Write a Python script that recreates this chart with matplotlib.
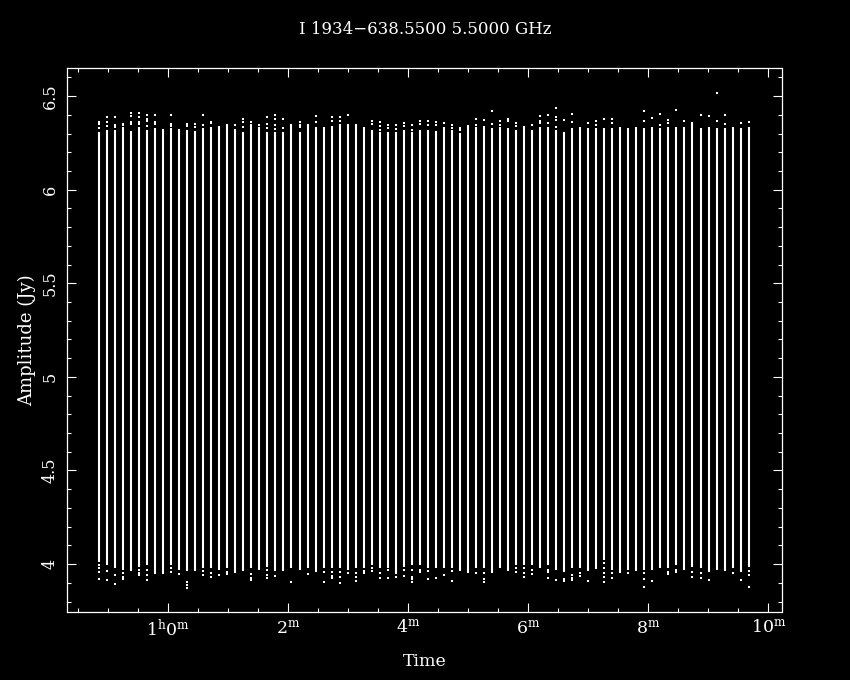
import numpy as np
import matplotlib
matplotlib.use('Agg')
import matplotlib.pyplot as plt
from matplotlib.ticker import FixedLocator, MultipleLocator

# integration times, seconds after 1h0m
scan_sec = [-69, -61, -53, -45, -37, -29, -21, -13, -5, 3,
            11, 19, 27, 35, 43, 51, 59, 67, 75, 83,
            91, 99, 107, 115, 123, 132, 140, 148, 156, 164,
            172, 180, 188, 196, 204, 212, 220, 228, 236, 244,
            252, 260, 268, 276, 284, 292, 300, 308, 316, 324,
            332, 340, 348, 356, 364, 372, 380, 388, 396, 404,
            412, 420, 428, 436, 444, 452, 460, 468, 476, 484,
            492, 500, 508, 516, 524, 533, 541, 549, 557, 565,
            573, 581]

# top / bottom of the dense band of points at each integration (Jy)
amp_hi = [6.309, 6.318, 6.318, 6.333, 6.315, 6.336, 6.318, 6.327, 6.325, 6.327,
          6.325, 6.318, 6.315, 6.327, 6.336, 6.340, 6.350, 6.322, 6.309, 6.350,
          6.336, 6.309, 6.309, 6.309, 6.350, 6.309, 6.350, 6.336, 6.336, 6.340,
          6.350, 6.350, 6.350, 6.336, 6.318, 6.309, 6.309, 6.309, 6.318, 6.309,
          6.318, 6.318, 6.315, 6.336, 6.318, 6.304, 6.343, 6.336, 6.327, 6.327,
          6.336, 6.327, 6.318, 6.340, 6.318, 6.335, 6.336, 6.318, 6.309, 6.327,
          6.336, 6.327, 6.331, 6.327, 6.327, 6.336, 6.327, 6.336, 6.327, 6.336,
          6.327, 6.336, 6.336, 6.336, 6.363, 6.327, 6.336, 6.327, 6.327, 6.336,
          6.327, 6.336]
amp_lo = [4.012, 3.995, 3.977, 3.968, 3.963, 3.986, 3.995, 3.945, 3.945, 3.995,
          3.968, 3.963, 3.963, 3.977, 3.977, 3.968, 3.977, 3.950, 3.963, 3.977,
          3.968, 3.986, 3.963, 3.963, 3.977, 3.968, 3.977, 3.980, 3.977, 3.977,
          3.977, 3.968, 3.977, 3.977, 3.995, 3.977, 3.977, 3.945, 3.986, 3.995,
          3.995, 3.977, 3.977, 3.977, 3.977, 3.963, 3.955, 3.977, 3.977, 3.955,
          3.977, 3.963, 3.995, 3.995, 3.995, 3.977, 3.995, 3.968, 3.959, 3.977,
          3.977, 3.963, 3.973, 4.021, 3.968, 3.950, 3.968, 3.963, 3.968, 3.968,
          3.980, 3.977, 3.995, 3.968, 3.986, 3.977, 3.959, 3.968, 3.963, 3.977,
          3.959, 3.986]

# scattered points outside the band, keyed by integration index
top_spots = {
    0: [6.361, 6.350, 6.327], 1: [6.386, 6.361, 6.340], 2: [6.386, 6.347, 6.336],
    3: [6.350, 6.343], 4: [6.407, 6.393, 6.361, 6.350], 5: [6.407, 6.390, 6.361, 6.350],
    6: [6.400, 6.375, 6.365, 6.340], 7: [6.397, 6.361, 6.350], 9: [6.397, 6.350, 6.340],
    11: [6.350, 6.340], 12: [6.350, 6.333], 13: [6.397, 6.343], 14: [6.361, 6.354],
    17: [6.343], 18: [6.379, 6.361, 6.333], 19: [6.361], 20: [6.347],
    21: [6.386, 6.350, 6.329], 22: [6.397, 6.379, 6.343, 6.325], 23: [6.379, 6.329],
    25: [6.361, 6.347, 6.333], 27: [6.393, 6.361], 29: [6.386, 6.368], 30: [6.386, 6.368],
    31: [6.397], 34: [6.368, 6.350], 35: [6.361, 6.340, 6.318], 36: [6.343, 6.329],
    37: [6.343, 6.322], 38: [6.354, 6.340], 39: [6.343, 6.318], 40: [6.368, 6.350],
    41: [6.368, 6.343], 42: [6.361, 6.347], 43: [6.354], 44: [6.343, 6.329],
    45: [6.329, 6.318], 47: [6.379, 6.347], 48: [6.372, 6.336], 49: [6.422, 6.350],
    50: [6.368, 6.343], 51: [6.379, 6.365], 52: [6.358, 6.340], 54: [6.343],
    55: [6.393, 6.368, 6.354], 56: [6.399, 6.354], 57: [6.434, 6.390, 6.372, 6.336],
    58: [6.372], 59: [6.402, 6.363], 61: [6.354], 62: [6.366, 6.345], 63: [6.377],
    64: [6.377, 6.354], 68: [6.420, 6.366], 69: [6.381], 70: [6.402, 6.345],
    71: [6.372, 6.354], 72: [6.425], 73: [6.366], 75: [6.399], 76: [6.393],
    77: [6.514, 6.366], 78: [6.399, 6.349], 80: [6.354], 81: [6.359],
}
low_spots = {
    0: [3.995, 3.977, 3.959, 3.920], 1: [3.963, 3.915], 2: [3.941, 3.891],
    3: [3.950, 3.932, 3.920], 5: [3.968, 3.950, 3.941], 6: [3.968, 3.941, 3.915],
    9: [3.977, 3.959], 10: [3.945], 11: [3.906, 3.888, 3.874], 13: [3.963, 3.941],
    14: [3.950, 3.932], 15: [3.941], 16: [3.959, 3.945], 19: [3.945, 3.927, 3.915],
    21: [3.968, 3.941, 3.923], 22: [3.938], 24: [3.906], 26: [3.945],
    27: [3.973, 3.963], 28: [3.959, 3.906], 29: [3.959, 3.938, 3.927],
    30: [3.959, 3.932, 3.897], 31: [3.950], 32: [3.950, 3.932, 3.909],
    33: [3.963, 3.950], 34: [3.980, 3.963], 35: [3.950, 3.923], 36: [3.968, 3.927],
    37: [3.932], 38: [3.968, 3.938], 39: [3.968, 3.932, 3.920, 3.902],
    40: [3.968, 3.959], 41: [3.963, 3.920], 42: [3.927], 43: [3.941],
    44: [3.963, 3.909], 47: [3.955], 48: [3.950, 3.920, 3.906], 52: [3.980, 3.959],
    53: [3.977, 3.950, 3.932], 54: [3.968, 3.945], 56: [3.968, 3.959, 3.923],
    57: [3.915], 58: [3.920, 3.909], 59: [3.941, 3.927, 3.915], 60: [3.950, 3.938],
    61: [3.909], 63: [4.004, 3.977, 3.950, 3.932, 3.906], 64: [3.950, 3.923],
    66: [3.950], 68: [3.950, 3.920, 3.879], 69: [3.909], 71: [3.959, 3.945],
    72: [3.968, 3.959], 74: [3.959, 3.932], 75: [3.950, 3.927], 76: [3.915],
    79: [3.950], 80: [3.915], 81: [3.963, 3.941, 3.879],
}

title = 'I 1934\u2212638.5500 5.5000 GHz'
xtick_min = [60, 62, 64, 66, 68, 70]
xtick_labels = [r'$1^{\mathrm{h}}0^{\mathrm{m}}$', r'$2^{\mathrm{m}}$', r'$4^{\mathrm{m}}$',
                r'$6^{\mathrm{m}}$', r'$8^{\mathrm{m}}$', r'$10^{\mathrm{m}}$']
ytick_vals = [4, 4.5, 5, 5.5, 6, 6.5]
ytick_labels = ['4', '4.5', '5', '5.5', '6', '6.5']

plt.rcParams['font.family'] = 'DejaVu Serif'
plt.rcParams['mathtext.fontset'] = 'dejavuserif'
plt.rcParams['font.size'] = 11

fig = plt.figure(figsize=(8.5, 6.8), dpi=100, facecolor='black')
ax = fig.add_axes([67 / 850, 0.1, 714.5 / 850, 0.8])
ax.set_facecolor('black')

t_min = 60 + np.array(scan_sec) / 60.0
ax.vlines(t_min, amp_lo, amp_hi, colors='white', linewidth=1.5)

xs, ys = [], []
for spots in (top_spots, low_spots):
    for k, amps in spots.items():
        xs += [t_min[k]] * len(amps)
        ys += amps
ax.plot(xs, ys, 's', color='white', ms=1.6, mew=0)

ax.set_xlim(58.317, 70.22)
ax.set_ylim(3.744, 6.65)

ax.xaxis.set_major_locator(FixedLocator(xtick_min))
ax.set_xticklabels(xtick_labels, fontsize=12.5)
ax.xaxis.set_minor_locator(MultipleLocator(0.5))
ax.yaxis.set_major_locator(FixedLocator(ytick_vals))
ax.set_yticklabels(ytick_labels, rotation=90, va='center', fontsize=11.5)
ax.yaxis.set_minor_locator(MultipleLocator(0.1))

for s in ax.spines.values():
    s.set_color('white')
    s.set_linewidth(0.9)
ax.tick_params(which='both', direction='in', top=True, right=True,
               color='white', labelcolor='white', width=0.8)
ax.tick_params(which='major', length=6.2)
ax.tick_params(which='minor', length=3.2)
ax.tick_params(axis='x', pad=5)
ax.tick_params(axis='y', pad=6)

fig.text(0.5, 1 - 30 / 680, title, ha='center', va='center', color='white', fontsize=12)
fig.text(0.4993, 1 - 661 / 680, 'Time', ha='center', va='center', color='white', fontsize=12.5)
fig.text(27 / 850, 0.5, 'Amplitude (Jy)', ha='center', va='center', rotation=90,
         color='white', fontsize=13)

fig.savefig('out.png', dpi=100, facecolor='black')
